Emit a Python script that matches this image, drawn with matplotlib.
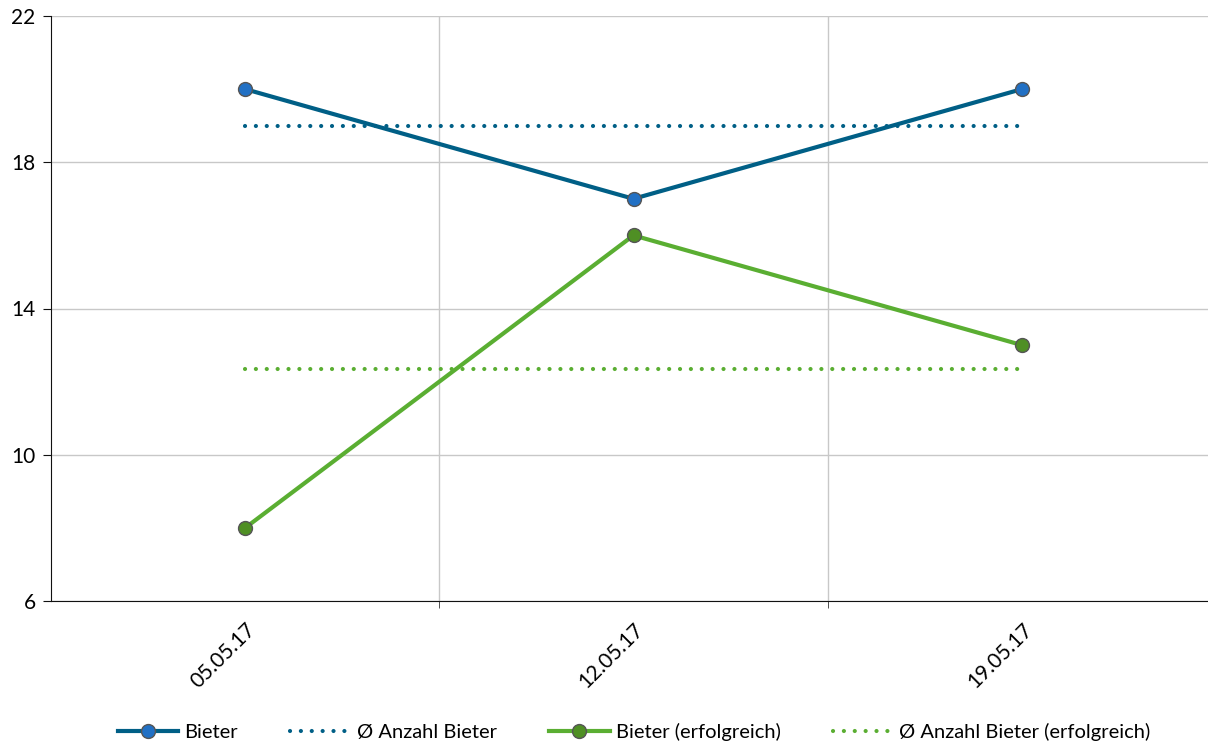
import matplotlib
matplotlib.use("Agg")
import matplotlib.pyplot as plt
import numpy as np

plt.rcParams['font.family'] = ['Lato', 'DejaVu Sans']

# Daten
dates = ['05.05.17', '12.05.17', '19.05.17']
bieter = [20, 17, 20]
bieter_erfolgreich = [8, 16, 13]
avg_bieter = np.mean(bieter)
avg_erfolgreich = np.mean(bieter_erfolgreich)

blue_line = '#005f86'
blue_marker = '#2170c4'
green_line = '#5aae32'
green_marker = '#4f8f24'

fig = plt.figure(figsize=(12.08, 7.44), dpi=100)
ax = fig.add_axes([51 / 1208, 143 / 744, 1165 / 1208, 585 / 744])

x = np.arange(len(dates))

ax.plot(x, bieter, color=blue_line, lw=3, marker='o', markersize=10,
        markerfacecolor=blue_marker, markeredgecolor='#555555', markeredgewidth=1,
        label='Bieter', zorder=4)
ax.plot(x, [avg_bieter] * len(x), color=blue_line, lw=3, dashes=(0.01, 2.6),
        dash_capstyle='round', label='Ø Anzahl Bieter', zorder=3)
ax.plot(x, bieter_erfolgreich, color=green_line, lw=3, marker='o', markersize=10,
        markerfacecolor=green_marker, markeredgecolor='#555555', markeredgewidth=1,
        label='Bieter (erfolgreich)', zorder=4)
ax.plot(x, [avg_erfolgreich] * len(x), color=green_line, lw=3, dashes=(0.01, 2.6),
        dash_capstyle='round', label='Ø Anzahl Bieter (erfolgreich)', zorder=3)

ax.set_xlim(-0.5, 2.5)
ax.set_ylim(6, 22)
ax.set_yticks([6, 10, 14, 18, 22])

ax.set_xticks(x)
ax.set_xticklabels(dates, rotation=45, ha='right', rotation_mode='anchor')
ax.set_xticks([0.5, 1.5], minor=True)
ax.tick_params(axis='x', which='major', length=0, pad=13)
ax.tick_params(axis='x', which='minor', length=5, color='#333333')
ax.tick_params(axis='y', length=6, color='#111111', pad=5)
ax.tick_params(labelsize=15)

ax.grid(axis='y', color='#c8c8c8', lw=1)
ax.grid(axis='x', which='minor', color='#c8c8c8', lw=1)
ax.set_axisbelow(True)

for s in ['top', 'right']:
    ax.spines[s].set_visible(False)
ax.spines['left'].set_color('#111111')
ax.spines['bottom'].set_color('#111111')

leg = fig.legend(loc='center', bbox_to_anchor=(0.525, 0.016), ncol=4, frameon=False,
                 fontsize=14.5, handlelength=3.0, columnspacing=2.6, handletextpad=0.3)

fig.savefig('out.png', dpi=100)
